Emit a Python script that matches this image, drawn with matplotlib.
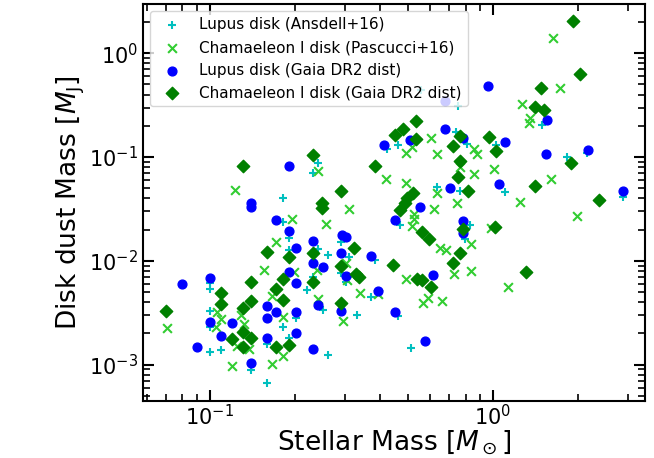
import matplotlib
matplotlib.use("Agg")
import matplotlib.pyplot as plt
import numpy as np

# Lupus disks, masses from Ansdell+16
lup_ans_mstar = [0.241, 0.231, 0.423, 0.461, 0.181, 0.181, 0.191, 0.191, 0.241, 0.262,
                 0.291, 0.310, 0.382, 0.231, 0.291, 0.302, 0.100, 0.100, 0.221, 0.371,
                 0.251, 0.331, 0.100, 0.100, 0.181, 0.201, 0.160, 0.191, 0.110, 0.100,
                 0.140, 0.262, 0.160, 0.462, 0.559, 0.755, 1.49, 0.743, 0.806, 1.028,
                 1.825, 2.15, 0.634, 0.763, 1.10, 2.88, 0.471, 0.828, 0.795, 0.512]
lup_ans_mdust = [0.0881, 0.0706, 0.119, 0.132, 0.0402, 0.0238, 0.0166, 0.0127, 0.0129, 0.01135,
                 0.0152, 0.0109, 0.0102, 0.00701, 0.00773, 0.00627, 0.00614, 0.00542, 0.00522, 0.00449,
                 0.00340, 0.00300, 0.00329, 0.00231, 0.00229, 0.00285, 0.00157, 0.00180, 0.00140, 0.00133,
                 0.000883, 0.00124, 0.000666, 0.00293, 0.443, 0.310, 0.202, 0.1754, 0.1334, 0.1297,
                 0.1007, 0.110, 0.0510, 0.0473, 0.0463, 0.0409, 0.0220, 0.0222, 0.0161, 0.00145]

# Chamaeleon I disks, masses from Pascucci+16
cha_pas_mstar = [0.123, 0.241, 0.418, 0.310, 0.196, 0.258, 0.171, 0.155, 0.302, 0.239,
                 0.305, 0.166, 0.3385, 0.393, 0.241, 0.106, 0.110, 0.105, 0.129, 0.132,
                 0.182, 0.295, 0.0707, 0.125, 0.138, 0.182, 0.166, 0.120, 0.198, 1.63,
                 1.72, 1.27, 1.355, 1.334, 0.606, 0.518, 0.492, 0.634, 0.857, 0.881,
                 0.763, 1.008, 0.857, 1.60, 0.492, 0.634, 1.24, 0.745, 0.619, 0.525,
                 0.525, 0.516, 1.97, 0.9815, 0.839, 0.650, 0.681, 0.731, 0.839, 0.492,
                 1.13, 0.565, 0.590, 0.663]
cha_pas_mdust = [0.0481, 0.0728, 0.0610, 0.0317, 0.0252, 0.0226, 0.0151, 0.00813, 0.00944, 0.00826,
                 0.00651, 0.00464, 0.00496, 0.00477, 0.00434, 0.00322, 0.00278, 0.00231, 0.00300, 0.00249,
                 0.00291, 0.00264, 0.00224, 0.00150, 0.00142, 0.00121, 0.00101, 0.000965, 0.00783, 1.414,
                 0.460, 0.322, 0.236, 0.214, 0.1535, 0.1257, 0.110, 0.1062, 0.1194, 0.1076,
                 0.0806, 0.0761, 0.0686, 0.0610, 0.0565, 0.0452, 0.0368, 0.0360, 0.0317, 0.0284,
                 0.0256, 0.0216, 0.0270, 0.0207, 0.0145, 0.0133, 0.0127, 0.00744, 0.00801, 0.00671,
                 0.00561, 0.00397, 0.00444, 0.00411]

# Lupus disks rescaled with Gaia DR2 distances
lup_gaia_mstar = [0.1905, 0.140, 0.140, 0.412, 0.171, 0.191, 0.201, 0.231, 0.292, 0.302,
                  0.291, 0.372, 0.231, 0.251, 0.191, 0.201, 0.302, 0.080, 0.100, 0.392,
                  0.160, 0.171, 0.201, 0.241, 0.291, 0.452, 0.452, 0.100, 0.120, 0.160,
                  0.110, 0.201, 0.090, 0.160, 0.231, 0.140, 0.956, 0.675, 1.55, 0.675,
                  0.511, 0.784, 1.10, 1.54, 2.17, 1.047, 0.705, 2.88, 0.5525, 0.786,
                  0.786, 0.614, 0.574]
lup_gaia_mdust = [0.0819, 0.0358, 0.0332, 0.1305, 0.0247, 0.0193, 0.0132, 0.0155, 0.0178, 0.0170,
                  0.0119, 0.0111, 0.00957, 0.00864, 0.00783, 0.00619, 0.00717, 0.00596, 0.00677, 0.00518,
                  0.00368, 0.00325, 0.00322, 0.00376, 0.00329, 0.00325, 0.0247, 0.00258, 0.00251, 0.00282,
                  0.00189, 0.00202, 0.00147, 0.00179, 0.00141, 0.00105, 0.487, 0.349, 0.226, 0.187,
                  0.146, 0.1525, 0.1405, 0.107, 0.116, 0.0553, 0.0506, 0.0473, 0.0332, 0.0243,
                  0.0184, 0.00728, 0.00171]

# Chamaeleon I disks rescaled with Gaia DR2 distances
cha_gaia_mstar = [0.070, 0.131, 0.231, 0.382, 0.450, 0.291, 0.250, 0.250, 0.160, 0.191,
                  0.231, 0.322, 0.291, 0.328, 0.336, 0.443, 0.181, 0.231, 0.140, 0.110,
                  0.171, 0.110, 0.140, 0.131, 0.181, 0.291, 0.131, 0.120, 0.140, 0.131,
                  0.171, 0.191, 0.471, 1.92, 2.02, 1.48, 1.41, 1.51, 0.534, 0.481,
                  0.534, 0.763, 0.725, 0.966, 1.025, 0.763, 0.755, 0.814, 1.88, 1.41,
                  2.37, 0.522, 0.495, 0.488, 0.562, 0.593, 0.784, 1.016, 0.765, 0.725,
                  1.31, 0.541, 0.562, 0.603]
cha_gaia_mdust = [0.00329, 0.0819, 0.1045, 0.0819, 0.163, 0.0473, 0.0362, 0.0320, 0.0122, 0.0109,
                  0.0118, 0.0133, 0.00889, 0.00744, 0.00696, 0.00915, 0.00666, 0.00627, 0.00623, 0.00491,
                  0.00534, 0.00382, 0.00409, 0.00350, 0.00418, 0.00397, 0.00207, 0.00177, 0.00181, 0.00148,
                  0.00149, 0.00156, 0.0308, 2.03, 0.627, 0.460, 0.3035, 0.284, 0.221, 0.185,
                  0.150, 0.1605, 0.128, 0.156, 0.1135, 0.0909, 0.0646, 0.0473, 0.0881, 0.0529,
                  0.0385, 0.0447, 0.0405, 0.0358, 0.0190, 0.0162, 0.0201, 0.0211, 0.0119, 0.00944,
                  0.00778, 0.00662, 0.00651, 0.00558]

fig = plt.figure(figsize=(6.54, 4.58), dpi=100)
ax = fig.add_axes([0.218, 0.125, 0.769, 0.867])

ax.scatter(lup_ans_mstar, lup_ans_mdust, marker='+', color='c', s=40, label='Lupus disk (Ansdell+16)')
ax.scatter(cha_pas_mstar, cha_pas_mdust, marker='x', color='limegreen', s=40, label='Chamaeleon I disk (Pascucci+16)')
ax.scatter(lup_gaia_mstar, lup_gaia_mdust, marker='o', color='b', s=40, label='Lupus disk (Gaia DR2 dist)')
ax.scatter(cha_gaia_mstar, cha_gaia_mdust, marker='D', color='g', s=40, label='Chamaeleon I disk (Gaia DR2 dist)')

ax.set_xscale('log')
ax.set_yscale('log')
ax.set_xlim(0.058, 3.45)
ax.set_ylim(4.5e-4, 3.0)

ax.set_xlabel(r'Stellar Mass [$M_\odot$]', fontsize=19, labelpad=0)
ax.set_ylabel(r'Disk dust Mass [$M_{\rm J}$]', fontsize=19, labelpad=1)

ax.tick_params(which='both', direction='in', top=True, right=True, labelsize=15)
ax.tick_params(which='major', length=8, width=1.5)
ax.tick_params(which='minor', length=5, width=1.2)
ax.tick_params(axis='x', which='both', pad=2)
for sp in ax.spines.values():
    sp.set_linewidth(1.5)

ax.legend(loc='upper left', fontsize=11)

fig.savefig('out.png', dpi=100)
